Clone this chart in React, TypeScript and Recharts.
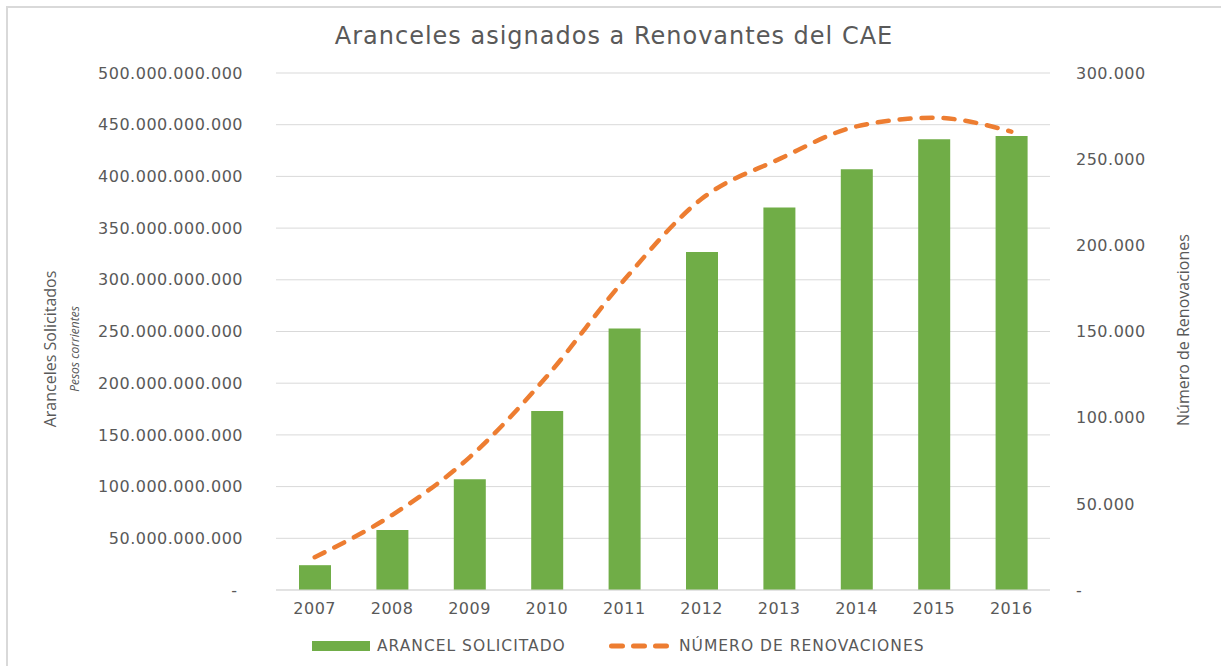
import { Bar, CartesianGrid, ComposedChart, Line, XAxis, YAxis } from "recharts";

const YEARS = ["2007", "2008", "2009", "2010", "2011", "2012", "2013", "2014", "2015", "2016"];
// pesos corrientes
const ARANCEL = [24e9, 58e9, 107e9, 173e9, 253e9, 327e9, 370e9, 407e9, 436e9, 439e9];
const RENOVACIONES = [19000, 43500, 77000, 124000, 180000, 227000, 250000, 269000, 274000, 266000];
const LEFT_TICKS = [0, 50e9, 100e9, 150e9, 200e9, 250e9, 300e9, 350e9, 400e9, 450e9, 500e9];
const RIGHT_TICKS = [0, 50000, 100000, 150000, 200000, 250000, 300000];

const GREEN = "#70ad47";
const ORANGE = "#ed7d31";
const INK = "#595959";
const GRID = "#d9d9d9";
const FONT = "'DejaVu Sans', sans-serif";

const data = YEARS.map((year, i) => ({ year, arancel: ARANCEL[i], renov: RENOVACIONES[i] }));

function fmt(v: number) {
  if (v === 0) return "-\u00a0";
  return String(Math.round(v)).replace(/\B(?=(\d{3})+(?!\d))/g, ".");
}

const tickStyle = { fill: INK, fontSize: 16, fontFamily: FONT, letterSpacing: 0.5 };

export default function App() {
  return (
    <div style={{ position: "absolute", left: 0, top: 0, width: 1221, height: 666, overflow: "hidden", background: "#fff" }}>
      <div style={{ position: "absolute", left: 6, top: 6, right: -4, bottom: -4, borderLeft: "2px solid #d9d9d9", borderTop: "2px solid #d9d9d9" }} />
      <div style={{ position: "absolute", left: 0, top: 22, width: 1228, textAlign: "center", fontFamily: FONT, fontSize: 24, color: INK, letterSpacing: 1 }}>
        Aranceles asignados a Renovantes del CAE
      </div>
      <ComposedChart width={1221} height={666} data={data} margin={{ top: 73, right: 0, bottom: 46, left: 0 }} style={{ position: "absolute", left: 0, top: 0 }}>
        <CartesianGrid yAxisId="left" vertical={false} stroke={GRID} />
        <XAxis dataKey="year" axisLine={{ stroke: GRID }} tickLine={false} tickSize={0} tickMargin={13} height={30} tick={tickStyle} />
        <YAxis
          yAxisId="left"
          width={276}
          domain={[0, 500e9]}
          ticks={LEFT_TICKS}
          tickFormatter={fmt}
          axisLine={false}
          tickLine={false}
          tickSize={0}
          tickMargin={33}
          tick={tickStyle}
        />
        <YAxis
          yAxisId="right"
          orientation="right"
          width={171}
          domain={[0, 300000]}
          ticks={RIGHT_TICKS}
          tickFormatter={fmt}
          axisLine={false}
          tickLine={false}
          tickSize={0}
          tickMargin={26}
          tick={tickStyle}
        />
        <Bar yAxisId="left" dataKey="arancel" fill={GREEN} barSize={32} isAnimationActive={false} />
        <Line
          yAxisId="right"
          dataKey="renov"
          type="monotone"
          stroke={ORANGE}
          strokeWidth={4.5}
          strokeDasharray="11 11"
          strokeLinecap="round"
          dot={false}
          activeDot={false}
          isAnimationActive={false}
        />
        <text transform="translate(56,349) rotate(-90)" textAnchor="middle" fill={INK} fontFamily="'Open Sans', sans-serif" fontSize={16}>
          Aranceles Solicitados
        </text>
        <text transform="translate(79,349) rotate(-90)" textAnchor="middle" fill={INK} fontFamily="'Open Sans', sans-serif" fontSize={12} fontStyle="italic">
          Pesos corrientes
        </text>
        <text transform="translate(1189,330) rotate(-90)" textAnchor="middle" fill={INK} fontFamily="'Open Sans', sans-serif" fontSize={16}>
          Número de Renovaciones
        </text>
      </ComposedChart>
      <div style={{ position: "absolute", left: 312, top: 637, display: "flex", alignItems: "center", fontFamily: FONT, fontSize: 15.5, color: INK, letterSpacing: 1 }}>
        <span style={{ display: "inline-block", width: 58, height: 10, background: GREEN, marginRight: 7 }} />
        <span style={{ width: 232 }}>ARANCEL SOLICITADO</span>
        <svg width={61} height={10} style={{ marginRight: 9 }}>
          <line x1={2.5} y1={5} x2={58} y2={5} stroke={ORANGE} strokeWidth={5} strokeDasharray="11 11" strokeLinecap="round" />
        </svg>
        <span>NÚMERO DE RENOVACIONES</span>
      </div>
    </div>
  );
}
